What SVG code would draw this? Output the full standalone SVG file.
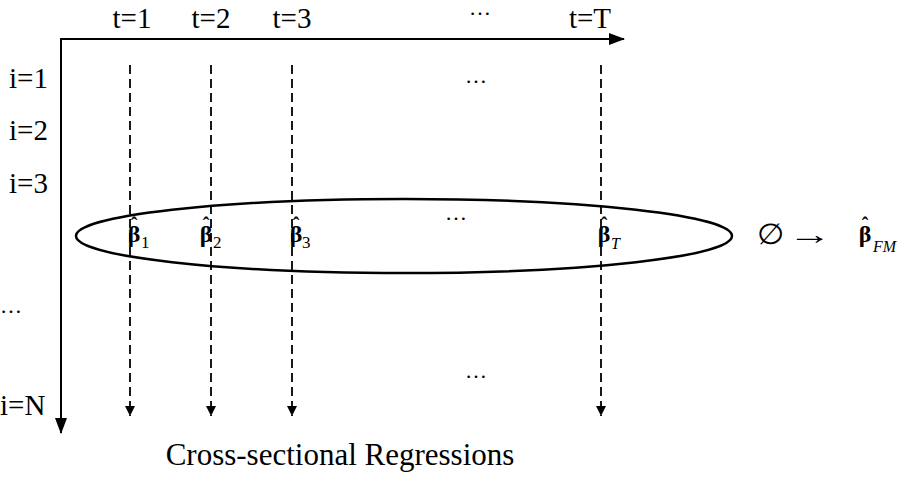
<svg xmlns="http://www.w3.org/2000/svg" width="899" height="478" viewBox="0 0 899 478">
<style>
text{font-family:"Liberation Serif","DejaVu Serif",serif;fill:#000}
.lbl{font-size:29px}
.dots{font-size:22px}
.cap{font-size:31px}
.beta{font-size:24px;font-weight:bold}
.hat{font-size:20px;font-weight:bold}
.sub{font-size:17px}
.isub{font-size:16px;font-style:italic}
.axis{stroke:#000;stroke-width:2;fill:none}
.dash{stroke:#000;stroke-width:1.8;stroke-dasharray:9 5;fill:none}
</style>
<defs>
<marker id="ah" markerWidth="16" markerHeight="12" refX="15" refY="6" orient="auto" markerUnits="userSpaceOnUse"><path d="M0,0 L16,6 L0,12 Z" fill="#000"/></marker>
<marker id="dh" markerWidth="10" markerHeight="10" refX="10" refY="5" orient="auto" markerUnits="userSpaceOnUse"><path d="M0,0 L10,5 L0,10 Z" fill="#000"/></marker>
</defs>
<g id="connectors">
<path class="axis" d="M61,39 H624" marker-end="url(#ah)"/>
<path class="axis" d="M61,38 V433" marker-end="url(#ah)"/>
<path class="dash" d="M130,65 V416" marker-end="url(#dh)"/>
<path class="dash" d="M211,65 V416" marker-end="url(#dh)"/>
<path class="dash" d="M292,65 V416" marker-end="url(#dh)"/>
<path class="dash" d="M601,65 V416" marker-end="url(#dh)"/>
</g>
<g id="col-labels">
<text class="lbl" x="132" y="28" text-anchor="middle">t=1</text>
<text class="lbl" x="211" y="28" text-anchor="middle">t=2</text>
<text class="lbl" x="292" y="28" text-anchor="middle">t=3</text>
<text class="dots" x="480" y="15" text-anchor="middle">…</text>
<text class="lbl" x="590" y="28" text-anchor="middle">t=T</text>
</g>
<g id="row-labels">
<text class="lbl" x="9" y="88">i=1</text>
<text class="lbl" x="9" y="140">i=2</text>
<text class="lbl" x="9" y="193">i=3</text>
<text class="dots" x="0" y="313">…</text>
<text class="lbl" x="0" y="415">i=N</text>
</g>
<g id="grid-dots">
<text class="dots" x="476" y="83" text-anchor="middle">…</text>
<text class="dots" x="456" y="220" text-anchor="middle">…</text>
<text class="dots" x="476" y="378" text-anchor="middle">…</text>
</g>
<g id="ellipse-node">
<ellipse cx="404" cy="236" rx="328" ry="37" fill="none" stroke="#000" stroke-width="2.5"/>
<text class="hat" x="134" y="232" text-anchor="middle">ˆ</text>
<text class="beta" x="134" y="242" text-anchor="middle">β</text>
<text class="sub" x="141" y="248">1</text>
<text class="hat" x="206" y="232" text-anchor="middle">ˆ</text>
<text class="beta" x="206" y="242" text-anchor="middle">β</text>
<text class="sub" x="213" y="248">2</text>
<text class="hat" x="296" y="232" text-anchor="middle">ˆ</text>
<text class="beta" x="296" y="242" text-anchor="middle">β</text>
<text class="sub" x="302" y="248">3</text>
<text class="hat" x="604" y="232" text-anchor="middle">ˆ</text>
<text class="beta" x="604" y="242" text-anchor="middle">β</text>
<text class="isub" x="611" y="249">T</text>
</g>
<g id="result">
<text class="lbl" x="757" y="244" textLength="27" lengthAdjust="spacingAndGlyphs">∅</text>
<text class="lbl" transform="translate(788,244) scale(1.5,1)">→</text>
<text class="hat" x="865" y="232" text-anchor="middle">ˆ</text>
<text class="beta" x="865" y="242" text-anchor="middle">β</text>
<text class="isub" x="873" y="252">FM</text>
</g>
<g id="caption">
<text class="cap" x="340" y="465" text-anchor="middle">Cross-sectional Regressions</text>
</g>
</svg>
